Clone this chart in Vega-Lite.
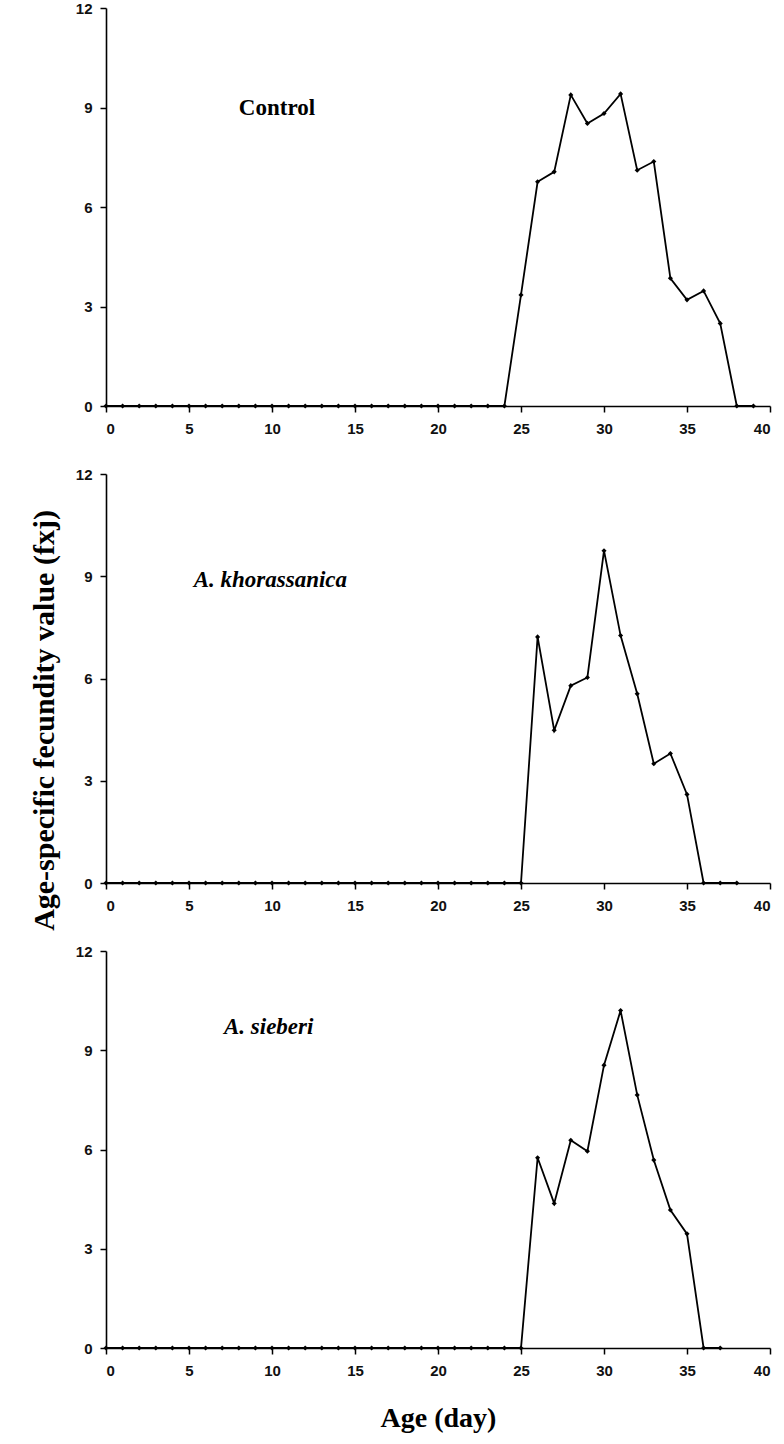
{
  "$schema": "https://vega.github.io/schema/vega-lite/v6.json",
  "background": "white",
  "padding": {"top": 1, "left": 29, "right": 5, "bottom": 2},
  "spacing": 68,
  "bounds": "flush",
  "datasets": {
    "control": [
      {"day": 0, "fx": 0}, {"day": 1, "fx": 0}, {"day": 2, "fx": 0}, {"day": 3, "fx": 0}, {"day": 4, "fx": 0},
      {"day": 5, "fx": 0}, {"day": 6, "fx": 0}, {"day": 7, "fx": 0}, {"day": 8, "fx": 0}, {"day": 9, "fx": 0},
      {"day": 10, "fx": 0}, {"day": 11, "fx": 0}, {"day": 12, "fx": 0}, {"day": 13, "fx": 0}, {"day": 14, "fx": 0},
      {"day": 15, "fx": 0}, {"day": 16, "fx": 0}, {"day": 17, "fx": 0}, {"day": 18, "fx": 0}, {"day": 19, "fx": 0},
      {"day": 20, "fx": 0}, {"day": 21, "fx": 0}, {"day": 22, "fx": 0}, {"day": 23, "fx": 0}, {"day": 24, "fx": 0},
      {"day": 25, "fx": 3.35}, {"day": 26, "fx": 6.76}, {"day": 27, "fx": 7.06}, {"day": 28, "fx": 9.38},
      {"day": 29, "fx": 8.52}, {"day": 30, "fx": 8.82}, {"day": 31, "fx": 9.41}, {"day": 32, "fx": 7.11},
      {"day": 33, "fx": 7.37}, {"day": 34, "fx": 3.85}, {"day": 35, "fx": 3.2}, {"day": 36, "fx": 3.47},
      {"day": 37, "fx": 2.49}, {"day": 38, "fx": 0}, {"day": 39, "fx": 0}
    ],
    "khorassanica": [
      {"day": 0, "fx": 0}, {"day": 1, "fx": 0}, {"day": 2, "fx": 0}, {"day": 3, "fx": 0}, {"day": 4, "fx": 0},
      {"day": 5, "fx": 0}, {"day": 6, "fx": 0}, {"day": 7, "fx": 0}, {"day": 8, "fx": 0}, {"day": 9, "fx": 0},
      {"day": 10, "fx": 0}, {"day": 11, "fx": 0}, {"day": 12, "fx": 0}, {"day": 13, "fx": 0}, {"day": 14, "fx": 0},
      {"day": 15, "fx": 0}, {"day": 16, "fx": 0}, {"day": 17, "fx": 0}, {"day": 18, "fx": 0}, {"day": 19, "fx": 0},
      {"day": 20, "fx": 0}, {"day": 21, "fx": 0}, {"day": 22, "fx": 0}, {"day": 23, "fx": 0}, {"day": 24, "fx": 0},
      {"day": 25, "fx": 0}, {"day": 26, "fx": 7.22}, {"day": 27, "fx": 4.48}, {"day": 28, "fx": 5.79},
      {"day": 29, "fx": 6.03}, {"day": 30, "fx": 9.75}, {"day": 31, "fx": 7.26}, {"day": 32, "fx": 5.55},
      {"day": 33, "fx": 3.5}, {"day": 34, "fx": 3.8}, {"day": 35, "fx": 2.6}, {"day": 36, "fx": 0},
      {"day": 37, "fx": 0}, {"day": 38, "fx": 0}
    ],
    "sieberi": [
      {"day": 0, "fx": 0}, {"day": 1, "fx": 0}, {"day": 2, "fx": 0}, {"day": 3, "fx": 0}, {"day": 4, "fx": 0},
      {"day": 5, "fx": 0}, {"day": 6, "fx": 0}, {"day": 7, "fx": 0}, {"day": 8, "fx": 0}, {"day": 9, "fx": 0},
      {"day": 10, "fx": 0}, {"day": 11, "fx": 0}, {"day": 12, "fx": 0}, {"day": 13, "fx": 0}, {"day": 14, "fx": 0},
      {"day": 15, "fx": 0}, {"day": 16, "fx": 0}, {"day": 17, "fx": 0}, {"day": 18, "fx": 0}, {"day": 19, "fx": 0},
      {"day": 20, "fx": 0}, {"day": 21, "fx": 0}, {"day": 22, "fx": 0}, {"day": 23, "fx": 0}, {"day": 24, "fx": 0},
      {"day": 25, "fx": 0}, {"day": 26, "fx": 5.75}, {"day": 27, "fx": 4.37}, {"day": 28, "fx": 6.28},
      {"day": 29, "fx": 5.95}, {"day": 30, "fx": 8.55}, {"day": 31, "fx": 10.2}, {"day": 32, "fx": 7.65},
      {"day": 33, "fx": 5.68}, {"day": 34, "fx": 4.17}, {"day": 35, "fx": 3.45}, {"day": 36, "fx": 0},
      {"day": 37, "fx": 0}
    ]
  },
  "config": {
    "view": {"stroke": null},
    "axis": {
      "grid": false,
      "domainColor": "black",
      "domainWidth": 1.6,
      "tickColor": "black",
      "tickWidth": 1.5,
      "tickSize": 6,
      "labelFont": "Liberation Sans",
      "labelFontWeight": "bold",
      "labelFontSize": 15,
      "labelColor": "#111111",
      "titleFont": "Liberation Serif",
      "titleFontWeight": "bold",
      "titleColor": "black"
    },
    "axisX": {"labelPadding": 9},
    "axisY": {"labelPadding": 8}
  },
  "vconcat": [
    {
      "width": 664,
      "height": 398,
      "layer": [
        {
          "data": {"name": "control"},
          "mark": {"type": "line", "color": "black", "strokeWidth": 1.8, "point": {"shape": "diamond", "filled": true, "color": "black", "size": 26}},
          "encoding": {
            "x": {"field": "day", "type": "quantitative", "scale": {"domain": [0, 40], "nice": false}, "axis": {"values": [0, 5, 10, 15, 20, 25, 30, 35, 40], "title": null}},
            "y": {"field": "fx", "type": "quantitative", "scale": {"domain": [0, 12], "nice": false}, "axis": {"values": [0, 3, 6, 9, 12], "title": null}}
          }
        },
        {
          "data": {"values": [{}]},
          "mark": {"type": "text", "text": "Control", "font": "Liberation Serif", "fontWeight": "bold", "fontSize": 23, "color": "black"},
          "encoding": {"x": {"datum": 10.3}, "y": {"datum": 8.98}}
        }
      ]
    },
    {
      "width": 664,
      "height": 409,
      "layer": [
        {
          "data": {"name": "khorassanica"},
          "mark": {"type": "line", "color": "black", "strokeWidth": 1.8, "point": {"shape": "diamond", "filled": true, "color": "black", "size": 26}},
          "encoding": {
            "x": {"field": "day", "type": "quantitative", "scale": {"domain": [0, 40], "nice": false}, "axis": {"values": [0, 5, 10, 15, 20, 25, 30, 35, 40], "title": null}},
            "y": {"field": "fx", "type": "quantitative", "scale": {"domain": [0, 12], "nice": false}, "axis": {"values": [0, 3, 6, 9, 12], "title": "Age-specific fecundity value  (fxj)", "titleFontSize": 30, "titlePadding": 16, "titleY": 246}}
          }
        },
        {
          "data": {"values": [{}]},
          "mark": {"type": "text", "text": "A. khorassanica", "font": "Liberation Serif", "fontWeight": "bold", "fontStyle": "italic", "fontSize": 23, "color": "black"},
          "encoding": {"x": {"datum": 9.9}, "y": {"datum": 8.9}}
        }
      ]
    },
    {
      "width": 664,
      "height": 397,
      "layer": [
        {
          "data": {"name": "sieberi"},
          "mark": {"type": "line", "color": "black", "strokeWidth": 1.8, "point": {"shape": "diamond", "filled": true, "color": "black", "size": 26}},
          "encoding": {
            "x": {"field": "day", "type": "quantitative", "scale": {"domain": [0, 40], "nice": false}, "axis": {"values": [0, 5, 10, 15, 20, 25, 30, 35, 40], "title": "Age (day)", "titleFontSize": 28, "titlePadding": 26}},
            "y": {"field": "fx", "type": "quantitative", "scale": {"domain": [0, 12], "nice": false}, "axis": {"values": [0, 3, 6, 9, 12], "title": null}}
          }
        },
        {
          "data": {"values": [{}]},
          "mark": {"type": "text", "text": "A. sieberi", "font": "Liberation Serif", "fontWeight": "bold", "fontStyle": "italic", "fontSize": 23, "color": "black"},
          "encoding": {"x": {"datum": 9.8}, "y": {"datum": 9.7}}
        }
      ]
    }
  ]
}
